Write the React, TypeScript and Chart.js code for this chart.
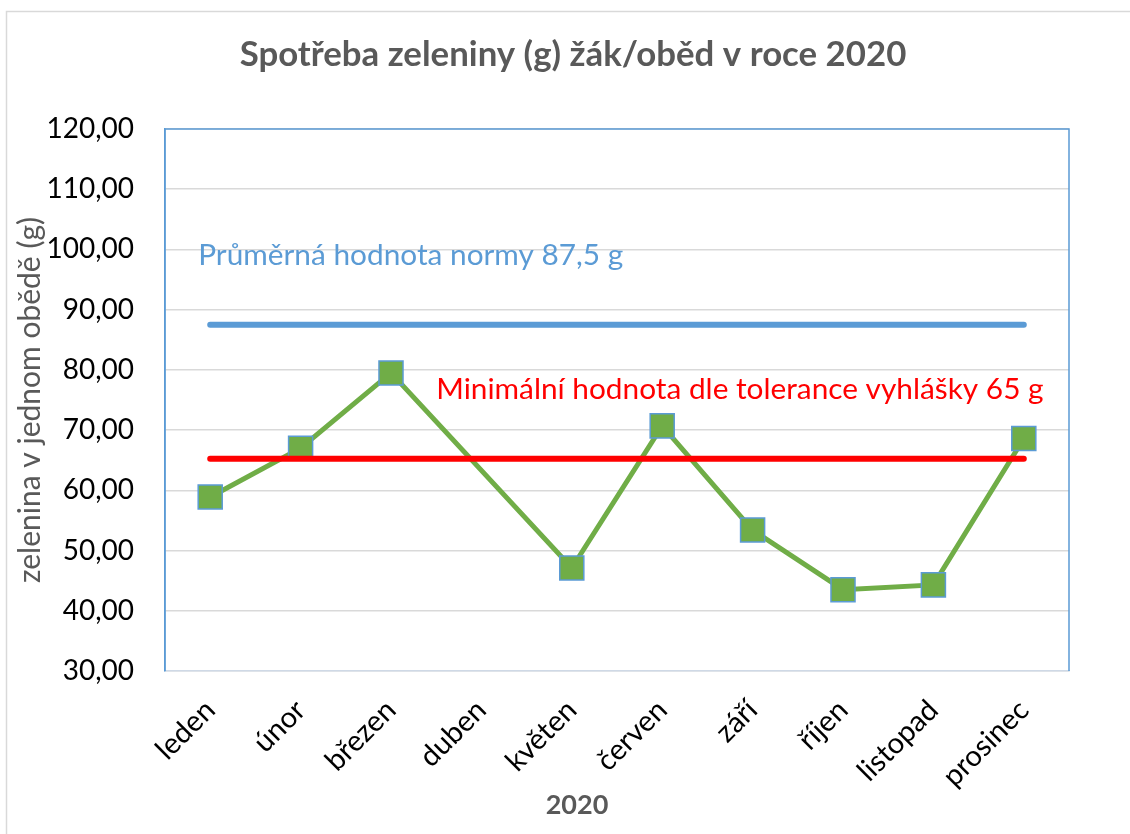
import React, { useEffect, useRef } from 'react';
import { Chart, registerables } from 'chart.js';

Chart.register(...registerables);

const FONT = 'Lato, "Open Sans", sans-serif';

const months = ['leden', 'únor', 'březen', 'duben', 'květen', 'červen', 'září', 'říjen', 'listopad', 'prosinec'];
const consumption = [58.9, 67.0, 79.5, null, 47.1, 70.7, 53.4, 43.5, 44.3, 68.6];
const normAverage = [87.5, 87.5, 87.5, 87.5, 87.5, 87.5, 87.5, 87.5, 87.5, 87.5];
const normMinimum = [65.25, 65.25, 65.25, 65.25, 65.25, 65.25, 65.25, 65.25, 65.25, 65.25];
const yTicks = [30, 40, 50, 60, 70, 80, 90, 100, 110, 120];

const titleText = 'Spotřeba zeleniny (g) žák/oběd v roce 2020';
const yTitle = 'zelenina v jednom obědě (g)';
const xTitle = '2020';
const avgLabel = 'Průměrná hodnota normy 87,5 g';
const minLabel = 'Minimální hodnota dle tolerance vyhlášky 65 g';

const decorPlugin = {
  id: 'decor',
  beforeDraw(chart: any) {
    const ctx = chart.ctx;
    ctx.save();
    ctx.fillStyle = '#ffffff';
    ctx.fillRect(0, 0, chart.width, chart.height);
    ctx.strokeStyle = '#d9d9d9';
    ctx.lineWidth = 1.5;
    ctx.strokeRect(6.5, 11.5, 1300, 1000);
    ctx.restore();
  },
  afterDraw(chart: any) {
    const ctx = chart.ctx;
    const { left, top, right, bottom } = chart.chartArea;
    const xs = chart.scales.x;
    const ys = chart.scales.y;
    ctx.save();
    ctx.strokeStyle = '#5B9BD5';
    ctx.lineWidth = 1.5;
    ctx.beginPath();
    ctx.moveTo(left, bottom);
    ctx.lineTo(left, top);
    ctx.lineTo(right, top);
    ctx.lineTo(right, bottom);
    ctx.stroke();

    // chart title
    ctx.textBaseline = 'alphabetic';
    ctx.textAlign = 'center';
    ctx.fillStyle = '#595959';
    ctx.font = 'bold 34.8px ' + FONT;
    ctx.fillText(titleText, 573, 66);

    // x axis title
    ctx.font = 'bold 27px ' + FONT;
    ctx.fillText(xTitle, 577, 814);

    // annotations
    ctx.font = '29.8px ' + FONT;
    ctx.textAlign = 'left';
    ctx.fillStyle = '#5B9BD5';
    ctx.fillText(avgLabel, xs.getPixelForValue(0) - 12, ys.getPixelForValue(97.4));
    ctx.fillStyle = '#FF0000';
    ctx.fillText(minLabel, xs.getPixelForValue(2.5), ys.getPixelForValue(75.2));
    ctx.restore();
  },
};

export default function App() {
  const ref = useRef<HTMLCanvasElement>(null);
  useEffect(() => {
    const chart = new Chart(ref.current!, {
      type: 'line',
      data: {
        labels: months,
        datasets: [
          {
            label: 'min',
            data: normMinimum,
            borderColor: '#FF0000',
            borderWidth: 6,
            borderCapStyle: 'round',
            pointRadius: 0,
            order: 1,
          },
          {
            label: 'avg',
            data: normAverage,
            borderColor: '#5B9BD5',
            borderWidth: 6,
            borderCapStyle: 'round',
            pointRadius: 0,
            order: 2,
          },
          {
            label: 'consumption',
            data: consumption,
            borderColor: '#70AD47',
            borderWidth: 5,
            spanGaps: true,
            pointStyle: 'rect',
            pointRadius: 17,
            pointBackgroundColor: '#70AD47',
            pointBorderColor: '#5B9BD5',
            pointBorderWidth: 1.5,
            order: 3,
          },
        ],
      },
      options: {
        responsive: false,
        animation: false,
        layout: { padding: { left: 0, right: 61, top: 129, bottom: 0 } },
        plugins: {
          legend: { display: false },
          tooltip: { enabled: false },
          title: { display: false },
        },
        scales: {
          x: {
            offset: true,
            grid: { display: false, drawTicks: false },
            border: { display: true, color: '#cfd9e6', width: 1.5 },
            ticks: {
              color: '#000000',
              font: { family: FONT, size: 29 },
              maxRotation: 45,
              minRotation: 45,
              padding: 22,
            },
            title: { display: false },
            afterFit(scale: any) {
              scale.height = 163;
            },
          },
          y: {
            min: 30,
            max: 120,
            afterBuildTicks(scale: any) {
              scale.ticks = yTicks.map((v) => ({ value: v }));
            },
            grid: { color: '#d9d9d9', lineWidth: 1.5, drawTicks: false },
            border: { display: true, color: '#5B9BD5', width: 1.5 },
            ticks: {
              color: '#000000',
              font: { family: FONT, size: 28 },
              padding: 31,
              callback: (v: any) => Number(v).toFixed(2).replace('.', ','),
            },
            title: {
              display: true,
              text: yTitle,
              color: '#595959',
              font: { family: FONT, size: 30 },
              padding: { top: 12, bottom: 0 },
            },
            afterFit(scale: any) {
              scale.width = 165;
            },
          },
        },
      },
      plugins: [decorPlugin],
    } as any);
    return () => chart.destroy();
  }, []);
  return (
    <div style={{ position: 'absolute', left: 0, top: 0, width: 1130, height: 834, background: '#fff' }}>
      <canvas ref={ref} width={1130} height={834} style={{ display: 'block' }} />
    </div>
  );
}
